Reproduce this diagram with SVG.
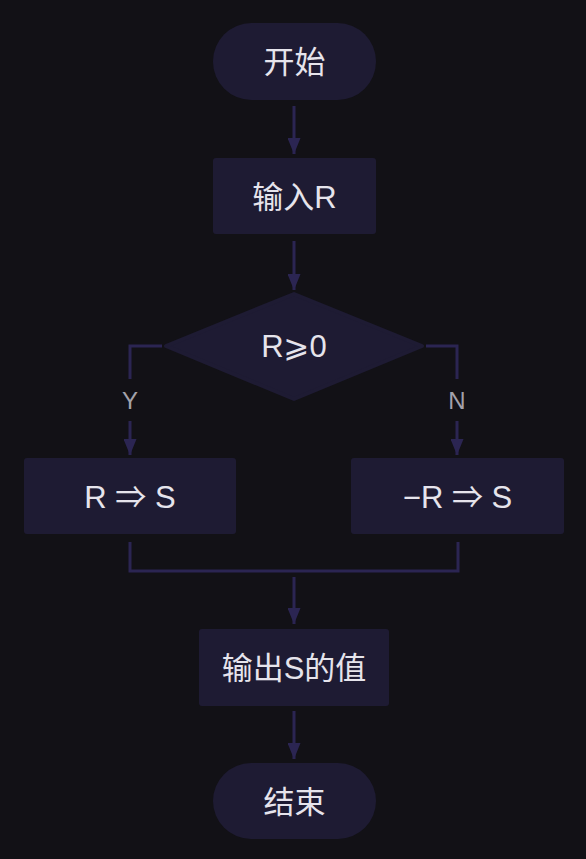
<svg xmlns="http://www.w3.org/2000/svg" width="586" height="859" viewBox="0 0 586 859">
<defs>
<style>
.bg{fill:#121116}
.node{fill:#1e1b33}
.dia{fill:#1e1b33;stroke:#1e1b33;stroke-width:4;stroke-linejoin:round}
.t{font-family:"Liberation Sans","Noto Sans CJK SC","DejaVu Sans",sans-serif;font-size:31px;fill:#e6e4ec;text-anchor:middle;dominant-baseline:central}
.lbl{font-family:"Liberation Sans","Noto Sans CJK SC",sans-serif;font-size:24px;fill:#a3a1aa;text-anchor:middle;dominant-baseline:central}
.c{fill:none;stroke:#2b2552;stroke-width:3}
</style>
<marker id="ah" viewBox="0 0 16 13" refX="16" refY="6.5" markerWidth="16" markerHeight="13" markerUnits="userSpaceOnUse" orient="auto">
<path d="M0,0 L16,6.5 L0,13 Z" fill="#2b2552"/>
</marker>
</defs>
<rect class="bg" x="0" y="0" width="586" height="859"/>
<g id="connectors">
<line class="c" x1="294" y1="106" x2="294" y2="154" marker-end="url(#ah)"/>
<line class="c" x1="294" y1="241" x2="294" y2="290" marker-end="url(#ah)"/>
<path class="c" d="M162,346 H130 V379"/>
<line class="c" x1="130" y1="421" x2="130" y2="455" marker-end="url(#ah)"/>
<path class="c" d="M426,346 H457 V379"/>
<line class="c" x1="457" y1="421" x2="457" y2="455" marker-end="url(#ah)"/>
<path class="c" d="M130,542 V571 H458 V542"/>
<line class="c" x1="294" y1="577" x2="294" y2="624" marker-end="url(#ah)"/>
<line class="c" x1="294" y1="711" x2="294" y2="759" marker-end="url(#ah)"/>
<text class="lbl" x="130" y="400">Y</text>
<text class="lbl" x="457" y="400">N</text>
</g>
<g id="start">
<rect class="node" x="213" y="23" width="163" height="77" rx="38.5"/>
<text class="t" x="294.5" y="62">开始</text>
</g>
<g id="input">
<rect class="node" x="213" y="158" width="163" height="76" rx="3"/>
<text class="t" x="294.5" y="197">输入R</text>
</g>
<g id="decision">
<polygon class="dia" points="294,294 422,346 294,399 166,346"/>
<text class="t" x="294" y="346">R⩾0</text>
</g>
<g id="yes">
<rect class="node" x="24" y="458" width="212" height="76" rx="3"/>
<text class="t" x="130" y="497">R ⇒ S</text>
</g>
<g id="no">
<rect class="node" x="351" y="458" width="213" height="76" rx="3"/>
<text class="t" x="457.5" y="497">−R ⇒ S</text>
</g>
<g id="output">
<rect class="node" x="199" y="629" width="190" height="77" rx="3"/>
<text class="t" x="294" y="668">输出S的值</text>
</g>
<g id="end">
<rect class="node" x="213" y="763" width="163" height="76" rx="38"/>
<text class="t" x="294.5" y="802">结束</text>
</g>
</svg>
